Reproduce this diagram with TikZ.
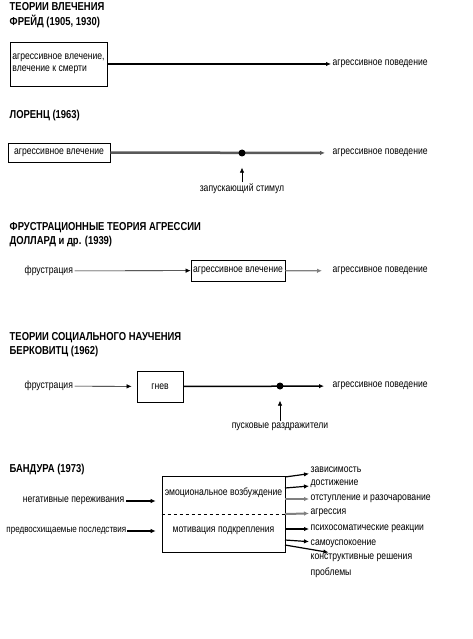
\documentclass[tikz,border=0pt]{standalone}
\usepackage{fontspec}
\setmainfont{Liberation Sans}[FakeStretch=0.82]
\usetikzlibrary{arrows.meta,shadows}

\begin{document}
\begin{tikzpicture}[x=1pt, y=-1pt,
    every node/.style={font=\fontsize{10.5}{12.5}\selectfont, inner sep=1.5pt},
    title/.style={anchor=west, font=\fontsize{11.5}{13}\selectfont\bfseries},
    txt/.style={anchor=west},
    box/.style={shape=rectangle, draw=black, line width=0.8pt},
    sbox/.style={box, fill=white, drop shadow={shadow xshift=1.2pt, shadow yshift=-1.2pt, fill=gray!70, opacity=1}},
    dot/.style={shape=circle, fill=black, inner sep=0pt, minimum size=7pt},
    tip/.style={-{Latex[length=5pt, width=4.5pt]}},
  ]
        \useasboundingbox (0,0) rectangle (473,639);

        % ------------------------------------------------------------------------
        % Freud
        \node[title] (h1) at (8, 7) {ТЕОРИИ ВЛЕЧЕНИЯ};
        \node[title] (h2) at (8, 21) {ФРЕЙД (1905, 1930)};

        \node[box, minimum width = 97pt, minimum height = 44pt, align = left] at (58.5, 64) (d1) {агрессивное влечение,\\влечение к смерти};
        \node[txt] at (331, 64) (o1) {агрессивное поведение};

        \draw[tip, line width = 1.5pt]
          (d1) -- (o1)
        ;

        % ------------------------------------------------------------------------
        % Lorenz
        \node[title] (h3) at (8, 116) {ЛОРЕНЦ (1963)};

        \node[sbox, minimum width = 102pt, minimum height = 19pt] at (59, 152.5) (d2) {агрессивное влечение};
        \node[txt] at (331, 153) (o2) {агрессивное поведение};
        \node at (242, 189) (s2) {запускающий стимул};

        \draw[tip, gray!70!black, line width = 2.5pt, shorten > = 6pt]
          (d2) -- (o2)
        ;
        \node[dot] at (242, 153) (t2) {};
        \draw[tip, line width = 0.6pt, shorten > = 11pt]
          (s2) -- (t2)
        ;

        % ------------------------------------------------------------------------
        % Dollard
        \node[title] (h4) at (8, 228) {ФРУСТРАЦИОННЫЕ ТЕОРИЯ АГРЕССИИ};
        \node[title] (h5) at (8, 242) {ДОЛЛАРД и др. (1939)};

        \node[txt] at (23, 271) (f3) {фрустрация};
        \node[sbox, minimum width = 94pt, minimum height = 21pt] at (238, 270.5) (d3) {агрессивное влечение};
        \node[txt] at (331, 271) (o3) {агрессивное поведение};

        \draw[tip, line width = 0.6pt]
          (f3) -- (d3)
        ;
        \draw[tip, gray, line width = 1.2pt, shorten > = 9pt]
          (d3) -- (o3)
        ;

        % ------------------------------------------------------------------------
        % Berkowitz
        \node[title] (h6) at (8, 338) {ТЕОРИИ СОЦИАЛЬНОГО НАУЧЕНИЯ};
        \node[title] (h7) at (8, 352) {БЕРКОВИТЦ (1962)};

        \node[txt] at (23, 386) (f4) {фрустрация};
        \node[box, minimum width = 46pt, minimum height = 31pt] at (160, 386.5) (d4) {гнев};
        \node[txt] at (331, 386) (o4) {агрессивное поведение};
        \node at (280, 427) (s4) {пусковые раздражители};

        \draw[tip, line width = 0.6pt, shorten > = 5pt]
          (f4) -- (d4)
        ;
        \draw[tip, line width = 1.5pt, shorten > = 7pt]
          (d4) -- (o4)
        ;
        \node[dot] at (280, 386) (t4) {};
        \draw[tip, line width = 0.6pt, shorten > = 11pt]
          (s4) -- (t4)
        ;

        % ------------------------------------------------------------------------
        % Bandura
        \node[title] (h8) at (8, 470) {БАНДУРА (1973)};

        \node[box, line width = 0.6pt, minimum width = 123pt, minimum height = 76pt] at (223.5, 514) (b5) {};
        \draw[dashed, line width = 0.6pt] (b5.west) -- (b5.east);
        \node at (223.5, 493) (e5) {эмоциональное возбуждение};
        \node at (223.5, 531) (m5) {мотивация подкрепления};

        \node[anchor = east] at (126, 501) (n5) {негативные переживания};
        \node[anchor = east, inner sep = 0.5pt, font = \fontsize{9.8}{12}\selectfont] at (127, 531) (p5) {предвосхищаемые последствия};

        \draw[tip, line width = 1.5pt, shorten > = 6pt]
          (n5) -- (n5 -| b5.west)
        ;
        \draw[tip, line width = 1.2pt, shorten > = 6pt]
          (p5) -- (p5 -| b5.west)
        ;

        \foreach \n/\ya/\yb/\col/\lw/\txt in {
            1/477/470/black/1.2pt/зависимость,
            2/488/484/black/1.2pt/достижение,
            3/499/499/gray/2.5pt/отступление и разочарование,
            4/514/513/gray/2pt/агрессия,
            5/529/529/black/1.2pt/психосоматические реакции,
            6/540/544/black/1.2pt/самоуспокоение,
            7/545/558/black/1.2pt/конструктивные решения} {
          \coordinate (a\n) at (285, \ya);
          \node[txt] at (309, \yb) (r\n) {\txt};
          \draw[tip, \col, line width = \lw] (a\n) -- (r\n);
        }
        \node[txt] at (309, 573) (r8) {проблемы};
      \end{tikzpicture}
\end{document}
